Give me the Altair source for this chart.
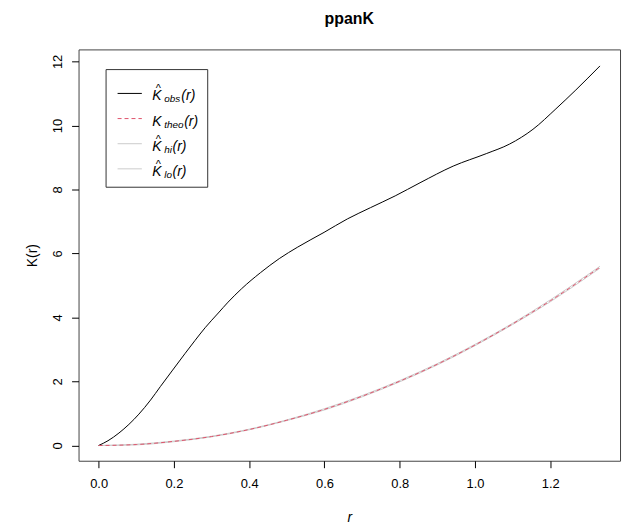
import altair as alt
import pandas as pd

# ---- data ----
r_obs = [0.0, 0.025, 0.054, 0.107, 0.138, 0.164, 0.195, 0.230, 0.256, 0.283, 0.318,
         0.344, 0.380, 0.430, 0.480, 0.529, 0.599, 0.661, 0.722, 0.788, 0.854,
         0.942, 1.030, 1.092, 1.154, 1.215, 1.268, 1.332]
k_obs = [0.0, 0.15, 0.39, 0.98, 1.42, 1.84, 2.33, 2.88, 3.28, 3.68, 4.14,
         4.48, 4.90, 5.40, 5.84, 6.20, 6.66, 7.08, 7.43, 7.80, 8.21,
         8.73, 9.12, 9.42, 9.88, 10.52, 11.11, 11.86]

r_env = [0.0, 0.1, 0.2, 0.3, 0.4, 0.5, 0.6, 0.7, 0.8, 0.9, 1.0, 1.1, 1.2, 1.3, 1.332]
k_theo = [0.0, 0.03, 0.13, 0.28, 0.50, 0.79, 1.13, 1.54, 2.01, 2.54, 3.14, 3.80, 4.52, 5.31, 5.57]
k_hi = [0.0, 0.04, 0.14, 0.29, 0.51, 0.80, 1.15, 1.56, 2.03, 2.56, 3.16, 3.82, 4.55, 5.34, 5.60]
k_lo = [0.0, 0.02, 0.12, 0.27, 0.49, 0.78, 1.11, 1.52, 1.99, 2.52, 3.12, 3.78, 4.49, 5.28, 5.54]

x_ticks = [0.0, 0.2, 0.4, 0.6, 0.8, 1.0, 1.2]
y_ticks = [0, 2, 4, 6, 8, 10, 12]

legend_subs = ["obs", "theo", "hi", "lo"]
legend_hat = [True, False, True, True]
legend_colors = ["#000000", "#DF536B", "#cccccc", "#cccccc"]
legend_dash = [None, [4, 3], None, None]

FONT = "Liberation Sans"

obs_df = pd.DataFrame({"r": r_obs, "K": k_obs})
theo_df = pd.DataFrame({"r": r_env, "K": k_theo})
hi_df = pd.DataFrame({"r": r_env, "K": k_hi})
lo_df = pd.DataFrame({"r": r_env, "K": k_lo})
dummy = pd.DataFrame({"d": [0]})

xs = alt.Scale(domain=[-0.0533, 1.3853], nice=False, zero=False)
ys = alt.Scale(domain=[-0.476, 12.376], nice=False, zero=False)

x_axis = alt.Axis(values=x_ticks, format=".1f", title="r", titleFontStyle="italic",
                  titleFontSize=14, titleFontWeight="normal", titleY=57,
                  titleBaseline="middle", labelPadding=10, labelFontSize=13,
                  tickSize=7, domain=False, grid=False, labelFlush=False)
y_axis = alt.Axis(values=y_ticks, format="d", title="K(r)", titleFontSize=14,
                  titleFontWeight="normal", titleX=-46, titleY=207, titleAngle=270,
                  titleAlign="center", titleBaseline="middle", labelAngle=270,
                  labelAlign="center", labelBaseline="alphabetic", labelPadding=10,
                  labelFontSize=13, tickSize=7, domain=False, grid=False, labelFlush=False)

x_enc = alt.X("r:Q", scale=xs, axis=x_axis)
y_enc = alt.Y("K:Q", scale=ys, axis=y_axis)

def line(df, color, dash=None):
    kw = dict(color=color, strokeWidth=1, interpolate="monotone")
    if dash:
        kw["strokeDash"] = dash
    return alt.Chart(df).mark_line(**kw).encode(x=x_enc, y=y_enc)

layers = [
    line(hi_df, "#cccccc"),
    line(lo_df, "#cccccc"),
    line(obs_df, "#000000"),
    line(theo_df, "#DF536B", [4, 3]),
]

def txt(s, x, y, size, style="italic", align="left", baseline="alphabetic", weight="normal"):
    return alt.Chart(dummy).mark_text(text=s, font=FONT, fontSize=size, fontStyle=style,
                                      fontWeight=weight, align=align, baseline=baseline,
                                      color="#000000").encode(
        x=alt.value(x), y=alt.value(y))

# title
layers.append(txt("ppanK", 272.5, -26, 16, style="normal", align="center", weight="bold"))

# ---- legend (drawn as marks in pixel space) ----
layers.append(
    alt.Chart(dummy).mark_rect(fill="white", stroke="#333333", strokeWidth=1).encode(
        x=alt.value(27.7), x2=alt.value(130), y=alt.value(20.3), y2=alt.value(138.7))
)

sub_w = {"obs": 16.7, "theo": 19.5, "hi": 7.8, "lo": 7.8}
x0 = 74.3
for i, sub in enumerate(legend_subs):
    ry = 44.3 + 25.3 * i
    kw = dict(color=legend_colors[i], strokeWidth=1)
    if legend_dash[i]:
        kw["strokeDash"] = legend_dash[i]
    layers.append(alt.Chart(dummy).mark_rule(**kw).encode(
        x=alt.value(39.3), x2=alt.value(63.7), y=alt.value(ry)))
    layers.append(txt("K", x0, ry + 7, 14))
    if legend_hat[i]:
        layers.append(txt("^", x0 + 6, ry - 1.2, 11, style="normal", align="center"))
    layers.append(txt(sub, x0 + 12.0, ry + 9, 10))
    layers.append(txt("(r)", x0 + 12.0 + sub_w[sub] + 0.5, ry + 7, 14))

chart = alt.layer(*layers).properties(
    width=545, height=414,
    autosize=alt.AutoSizeParams(type="none"),
    padding={"left": 71, "top": 40, "right": 4, "bottom": 66},
).configure_view(stroke="#444444", strokeWidth=1).configure_axis(
    labelFont=FONT, titleFont=FONT, labelColor="#000000", titleColor="#000000",
    tickColor="#000000", tickWidth=1
)

chart.save("out.html", embed_options={"renderer": "svg", "actions": False})
